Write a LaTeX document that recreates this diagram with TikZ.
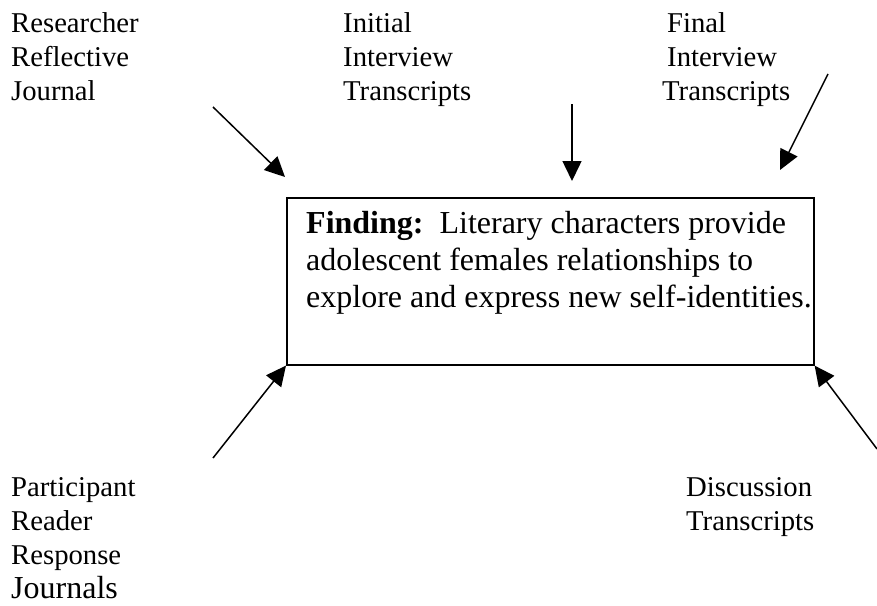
\documentclass[tikz,border=0pt]{standalone}
\usepackage{fontspec}
\setmainfont{Liberation Serif}
\usetikzlibrary{arrows.meta}

% multi-line text nodes are placed by the baseline of their last line
\tikzset{
  label/.style={anchor=base west, inner sep=0pt, align=left,
    font=\fontsize{28.7}{34}\selectfont},
  findingbox/.style={draw, line width=1.6pt},
  findingtext/.style={anchor=base west, inner sep=0pt, align=left,
    font=\fontsize{32}{37}\selectfont},
  feed/.style={line width=1.5pt, -{Triangle[length=20pt, width=19pt]}}
}

\begin{document}
\begin{tikzpicture}[x=1pt, y=-1pt]
  \useasboundingbox (0,0) rectangle (877,605);

  % central finding
  \node[findingbox, minimum width=527pt, minimum height=167pt, anchor=north west,
        inner sep=0pt] (box) at (286,197) {};
  \node[findingtext] (finding) at (306,307)
    {\textbf{Finding:}\ \ Literary characters provide\\
     adolescent females relationships to\\
     explore and express new self-identities.};

  % data sources
  \node[label] (journal) at (11,100) {Researcher\\Reflective\\Journal};
  \node[label] (initial) at (343,100) {Initial\\Interview\\Transcripts};
  \node[label] (final) at (667,100) {Final\\Interview\\\hspace*{-5pt}Transcripts};
  \node[label] (reader) at (11,598)
    {Participant\\Reader\\Response\\{\fontsize{32}{37}\selectfont Journals}};
  \node[label] (discussion) at (686,530) {Discussion\\Transcripts};

  % arrow ends
  \coordinate (a1s) at (213,107);
  \coordinate (a1e) at (285,177);
  \coordinate (a2s) at (572,104);
  \coordinate (a2e) at (572,181);
  \coordinate (a3s) at (828,74);
  \coordinate (a3e) at (780,170);
  \coordinate (a4s) at (213,458);
  \coordinate (a5s) at (877,449);

  \draw[feed] (a1s) -- (a1e);
  \draw[feed] (a2s) -- (a2e);
  \draw[feed] (a3s) -- (a3e);
  \draw[feed] (a4s) -- (box.south west);
  \draw[feed] (a5s) -- (box.south east);
\end{tikzpicture}
\end{document}
